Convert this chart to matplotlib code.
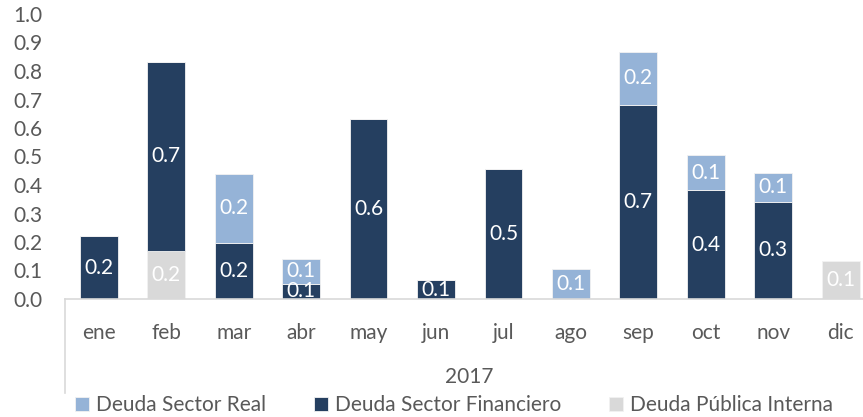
import matplotlib.pyplot as plt
import numpy as np

months = ['ene', 'feb', 'mar', 'abr', 'may', 'jun', 'jul', 'ago', 'sep', 'oct', 'nov', 'dic']
year = '2017'

publica = [0.0, 0.17, 0.0, 0.0, 0.0, 0.0, 0.0, 0.0, 0.0, 0.0, 0.0, 0.133]
financiero = [0.22, 0.66, 0.198, 0.054, 0.63, 0.066, 0.456, 0.0, 0.682, 0.382, 0.341, 0.0]
real = [0.0, 0.0, 0.241, 0.085, 0.0, 0.0, 0.0, 0.105, 0.185, 0.123, 0.101, 0.0]

C_REAL = '#95B3D7'
C_FIN = '#253F60'
C_PUB = '#D9D9D9'
TXT = '#595959'
FS = 15


def main():
    plt.rcParams['font.family'] = ['Lato', 'DejaVu Sans']
    fig = plt.figure(figsize=(8.63, 4.17), dpi=100)
    # plot area: x 65..863 px, y 14..299 px (from top)
    ax = fig.add_axes([65 / 863, 118 / 417, 798 / 863, 285 / 417])

    x = np.arange(len(months))
    w = 0.56
    pub = np.array(publica)
    fin = np.array(financiero)
    rea = np.array(real)

    b_pub = ax.bar(x, pub, w, color=C_PUB, edgecolor='#F2F2F2', linewidth=0.6, label='Deuda Pública Interna')
    b_fin = ax.bar(x, fin, w, bottom=pub, color=C_FIN, edgecolor='#F2F2F2', linewidth=0.6,
                   label='Deuda Sector Financiero')
    b_rea = ax.bar(x, rea, w, bottom=pub + fin, color=C_REAL, edgecolor='#F2F2F2', linewidth=0.6,
                   label='Deuda Sector Real')

    for bars, vals in [(b_pub, pub), (b_fin, fin), (b_rea, rea)]:
        labels = ['%.1f' % v if v > 0 else '' for v in vals]
        ax.bar_label(bars, labels=labels, label_type='center', color='white', fontsize=FS)

    ax.set_ylim(0, 1.0)
    ax.set_xlim(-0.5, 11.33)
    ax.set_yticks(np.arange(0, 1.01, 0.1))
    ax.set_yticklabels(['%.1f' % v for v in np.arange(0, 1.01, 0.1)])
    ax.set_xticks(x)
    ax.set_xticklabels(months)
    ax.tick_params(axis='y', length=0, pad=16, labelsize=FS, labelcolor=TXT)
    ax.tick_params(axis='x', length=0, pad=17, labelsize=FS, labelcolor=TXT)

    for s in ['top', 'right', 'left']:
        ax.spines[s].set_visible(False)
    ax.spines['bottom'].set_color(C_PUB)
    ax.spines['bottom'].set_linewidth(1.2)

    # multi-level category separator and the year label
    trans = ax.get_xaxis_transform()
    ax.plot([-0.5, -0.5], [0, -94 / 285], color=C_PUB, lw=1.2, transform=trans, clip_on=False)
    ax.text(5.5, -78 / 285, year, transform=trans, ha='center', va='center', fontsize=FS, color=TXT)

    handles = [b_rea, b_fin, b_pub]
    fig.legend(handles, [h.get_label() for h in handles], loc='center', bbox_to_anchor=(454 / 863, 12 / 417),
               ncol=3, frameon=False, fontsize=FS, handlelength=0.65, handleheight=0.65,
               handletextpad=0.35, columnspacing=2.3, labelcolor=TXT, borderaxespad=0, borderpad=0)

    fig.savefig('out.png', dpi=100)


if __name__ == '__main__':
    main()
